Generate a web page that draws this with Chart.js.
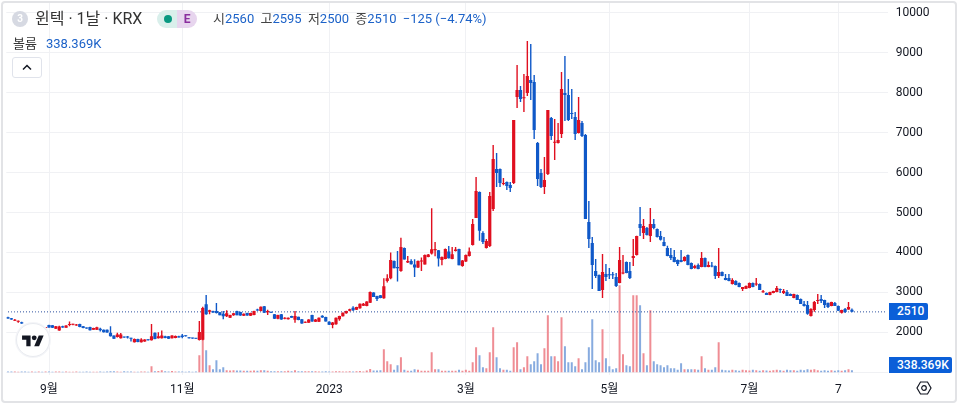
<!DOCTYPE html>
<html lang="ko">
<head>
<meta charset="utf-8">
<title>윈텍 · 1날 · KRX</title>
<script src="https://cdn.jsdelivr.net/npm/chart.js@4/dist/chart.umd.min.js"></script>
<style>
    html, body { margin: 0; padding: 0; background: #fff; width: 960px; height: 404px; overflow: hidden; }
    body { position: relative; font-family: Roboto, "Noto Sans CJK KR", sans-serif; color: #131722; }
    #chart { position: absolute; left: 0; top: 0; }
    #frame { position: absolute; left: 1px; top: 1px; width: 952px; height: 398px; border: 2px solid #e2e3e6; border-radius: 4px; pointer-events: none; }
    .abs { position: absolute; white-space: nowrap; }
    .blue { color: #1c62c8; }
    .gap { margin-left: 3px; }
    .tag { background: #0b5fd8; color: #fff; font-size: 12px; font-weight: 500; line-height: 16px; height: 16px; padding-left: 8px; }
</style>
</head>
<body>
<canvas id="chart" width="960" height="404"></canvas>
<div id="frame"></div>

<!-- legend header -->
<div class="abs" style="left:12px;top:11px;width:16px;height:16px;border-radius:50%;background:#d6d9e2;color:#fff;font-size:10px;line-height:16px;text-align:center;font-weight:700">3</div>
<div class="abs" style="left:35px;top:9px;font-size:16px;line-height:20px;color:#333">윈텍 · 1날 · KRX</div>
<div class="abs" style="left:157px;top:10px;width:20px;height:18px;background:#d9efeb;border-radius:9px 0 0 9px"></div>
<div class="abs" style="left:177px;top:10px;width:20px;height:18px;background:#e7d5ee;border-radius:0 9px 9px 0;color:#8a2d9e;font-size:12px;font-weight:700;line-height:18px;text-align:center">E</div>
<div class="abs" style="left:164px;top:15px;width:8px;height:8px;border-radius:50%;background:#089981"></div>
<div class="abs" style="left:213px;top:10px;font-size:13px;line-height:18px;color:#444">시<span class="blue">2560</span> <span class="gap">고</span><span class="blue">2595</span> <span class="gap">저</span><span class="blue">2500</span> <span class="gap">종</span><span class="blue">2510</span> <span class="blue gap">−125 (−4.74%)</span></div>
<div class="abs" style="left:13px;top:35px;font-size:13px;line-height:18px;color:#333">볼륨</div>
<div class="abs blue" style="left:46px;top:35px;font-size:13px;line-height:18px">338.369K</div>
<div class="abs" style="left:12px;top:57px;width:28px;height:19px;border:1px solid #e0e3eb;border-radius:3px;background:#fff">
    <svg width="28" height="19" style="display:block"><path d="M10 11.5 L14 7.5 L18 11.5" fill="none" stroke="#131722" stroke-width="1.5"/></svg>
</div>

<!-- logo -->
<div class="abs" style="left:16px;top:323px;width:32px;height:32px;border:1px solid #e9ebf0;border-radius:50%;background:#fff;box-shadow:0 0 0 1px #f4f5f8">
    <svg width="22" height="17" viewBox="0 0 36 28" style="position:absolute;left:5px;top:9px"><path d="M14 22H7V11H0V4h14v18zM28 22h-8l7.5-18h8L28 22z" fill="#131722"/><circle cx="20" cy="8" r="4" fill="#131722"/></svg>
</div>

<!-- last value tags -->
<div class="abs tag" style="left:889px;top:303px;width:31px;height:17px;line-height:17px;border-radius:0 2px 2px 0">2510</div>
<div class="abs tag" style="left:889px;top:357px;width:55px;border-radius:0 2px 2px 0">338.369K</div>

<!-- settings button -->
<svg class="abs" style="left:916px;top:380px" width="16" height="16" viewBox="0 0 16 16"><path d="M4.5 2 H11.5 L15 8 L11.5 14 H4.5 L1 8 Z" fill="none" stroke="#131722" stroke-width="1.2"/><circle cx="8" cy="8" r="2.3" fill="none" stroke="#131722" stroke-width="1.2"/></svg>

<script>
// Daily candles, oldest first
const opens = [
    2375,2350,2290,2260,2250,2175,2145,2140,2190,2150,
    2125,2105,2180,2175,2085,2040,2150,2115,2180,2185,
    2170,2205,2150,2115,2130,2065,2065,2090,2065,2065,
    1985,1915,1880,1850,1875,1880,1845,1750,1830,1750,
    1765,1815,1800,1985,1850,1850,1900,1900,1850,1855,
    1900,1915,1915,1870,1855,1845,1805,1810,2700,2515,
    2530,2530,2500,2465,2400,2365,2425,2530,2505,2415,
    2480,2415,2430,2555,2530,2650,2500,2505,2450,2335,
    2450,2335,2325,2405,2315,2385,2325,2240,2240,2430,
    2265,2265,2415,2380,2265,2180,2200,2325,2400,2475,
    2535,2615,2565,2600,2665,2660,2740,2995,2905,2925,
    2850,3285,3350,3785,3635,3535,4110,3745,3785,3700,
    3620,3770,3700,3885,3970,4055,4055,3810,3835,4020,
    3835,4035,4085,3660,3770,3910,4185,4865,5515,4485,
    4110,4160,5090,6090,6090,5715,5765,5690,5740,7895,
    8070,7860,7995,8320,8270,6740,5990,5640,5965,7370,
    6750,6740,6970,7995,7945,7495,7395,6995,7245,6945,
    4760,4235,3535,3435,3060,3460,3440,3440,3385,3235,
    3470,3760,3535,3860,3935,4710,4485,4610,4410,4710,
    4585,4410,4260,4110,3935,3885,3810,3810,3785,3935,
    3735,3610,3685,3635,3860,3635,3670,3660,3410,3510,
    3360,3360,3210,3285,3235,3085,3090,3110,3235,3195,
    3210,3000,2985,2935,2985,3010,3085,2985,3010,2960,
    2860,2935,2835,2710,2685,2405,2555,2785,2830,2805,
    2735,2660,2735,2660,2485,2580,2570,2560
];
const highs = [
    2385,2355,2330,2295,2260,2180,2165,2170,2195,2165,
    2140,2130,2185,2180,2155,2160,2160,2175,2270,2215,
    2205,2215,2155,2120,2135,2110,2135,2115,2070,2070,
    2150,1920,1985,1980,1885,1905,1860,1840,1835,1850,
    1825,1825,2205,1990,2000,2040,1910,1905,1925,1915,
    1910,1955,1925,1875,1860,1850,2280,2640,2935,2560,
    2540,2735,2505,2530,2550,2440,2480,2535,2510,2470,
    2490,2490,2540,2590,2645,2660,2560,2515,2455,2440,
    2455,2375,2370,2415,2530,2390,2330,2270,2325,2440,
    2330,2370,2425,2390,2275,2255,2370,2415,2495,2540,
    2590,2650,2640,2720,2730,2775,3020,3000,2915,2935,
    3350,3450,3995,3795,4035,4370,4120,3910,3830,3830,
    3795,3870,3945,3960,5105,4260,4060,3895,4095,4160,
    4135,4135,4090,3810,3945,4120,4840,5890,5525,4530,
    4335,5515,6690,6490,6100,5865,5775,5765,7320,8695,
    8170,8470,9300,9225,8445,6765,6090,6390,7570,7395,
    7345,7245,8520,8920,8345,8095,7520,7895,7295,6970,
    5290,4385,3835,3445,3960,3710,3610,3510,3485,4135,
    3935,3770,3760,4335,4420,5140,4840,4635,5115,4840,
    4600,4535,4385,4165,4110,4060,3820,4060,3905,3945,
    3745,3690,3720,4010,3870,3770,3760,3670,4110,3520,
    3460,3460,3350,3300,3245,3135,3170,3245,3245,3360,
    3220,3060,2995,3015,3040,3160,3095,3085,3060,2970,
    2965,2945,2845,2785,2785,2600,2785,2960,2935,2815,
    2745,2765,2760,2670,2560,2610,2760,2595
];
const lows = [
    2340,2315,2280,2240,2210,2120,2130,2130,2170,2145,
    2105,2100,2115,2105,2080,2035,2115,2110,2150,2175,
    2160,2125,2100,2090,2045,2060,2055,2015,1995,1985,
    1890,1830,1865,1845,1860,1845,1770,1745,1750,1745,
    1760,1790,1790,1825,1845,1845,1850,1830,1845,1850,
    1865,1850,1895,1845,1835,1830,1795,1800,2440,2450,
    2490,2470,2425,2325,2380,2355,2415,2425,2415,2405,
    2415,2405,2425,2535,2525,2480,2430,2480,2330,2325,
    2315,2325,2320,2360,2240,2300,2215,2230,2235,2265,
    2255,2255,2365,2270,2180,2100,2190,2290,2395,2465,
    2525,2530,2555,2590,2660,2650,2735,2885,2780,2850,
    2840,3245,3325,3600,3270,3515,3820,3735,3700,3385,
    3610,3535,3695,3880,3950,3905,3645,3680,3830,3845,
    3830,4020,3680,3640,3760,3900,4175,4860,4290,4210,
    4100,4135,5040,5640,5640,5680,5565,5515,5715,7620,
    7770,7520,7920,7820,6840,5665,5615,5465,5940,6815,
    6315,6730,6870,7295,7295,7345,6815,6980,6890,4840,
    4110,3085,3360,3030,2860,3285,3335,3335,3135,3225,
    3455,3480,3335,3660,3925,4410,4335,4425,4260,4580,
    4375,4300,4155,3905,3810,3755,3660,3755,3775,3680,
    3580,3590,3580,3625,3630,3625,3630,3335,3360,3405,
    3300,3280,3195,3180,3130,3035,3080,3100,3130,3165,
    3060,2990,2935,2925,2975,3000,2985,2960,2910,2905,
    2850,2810,2710,2645,2435,2395,2510,2710,2735,2610,
    2610,2650,2655,2530,2470,2480,2560,2500
];
const closes = [
    2345,2320,2315,2290,2220,2125,2135,2160,2175,2160,
    2110,2120,2120,2110,2150,2145,2120,2170,2205,2205,
    2185,2130,2105,2095,2050,2105,2125,2050,2000,1990,
    1900,1835,1940,1940,1870,1870,1835,1830,1755,1815,
    1815,1800,1900,1830,1900,1915,1855,1835,1915,1905,
    1870,1880,1900,1850,1840,1835,2005,2610,2450,2550,
    2495,2480,2425,2400,2475,2430,2475,2425,2420,2465,
    2420,2480,2530,2545,2640,2485,2530,2490,2335,2430,
    2320,2365,2365,2365,2405,2305,2220,2265,2320,2270,
    2320,2365,2370,2270,2185,2245,2365,2405,2490,2530,
    2575,2550,2635,2715,2715,2770,3010,2885,2830,2855,
    3150,3350,3810,3600,3605,4135,3820,3785,3705,3620,
    3785,3800,3935,3945,4080,4085,3845,3885,4085,3855,
    3955,4070,3680,3800,3935,4020,4710,5540,4540,4260,
    4285,5415,6340,5990,5740,5740,5665,5615,7320,8070,
    7845,7875,8420,8245,7070,5840,5640,5815,7570,6915,
    6770,6815,8095,7945,7320,7470,6970,7320,6915,4840,
    4335,3685,3410,3035,3510,3385,3425,3425,3160,3810,
    3490,3485,3360,3910,4410,4610,4660,4435,4710,4610,
    4385,4315,4160,3910,3860,3760,3710,3760,3885,3685,
    3585,3660,3585,3860,3635,3685,3650,3410,3510,3410,
    3310,3285,3310,3185,3135,3135,3160,3235,3135,3215,
    3060,3015,2935,3010,3035,3110,3060,3035,2910,2910,
    2960,2810,2710,2660,2460,2585,2760,2810,2785,2680,
    2635,2760,2660,2535,2555,2505,2635,2510
];
// Volume in thousands of shares
const volumes = [
    130,120,150,110,130,120,100,120,110,130,
    110,120,150,100,140,120,110,130,100,110,
    120,110,100,130,90,110,100,120,110,130,
    170,180,120,110,170,120,130,110,100,120,
    130,110,1020,170,240,340,170,130,240,130,
    120,130,100,130,100,120,2890,6800,3740,1190,
    510,2040,510,850,340,290,340,290,290,255,
    255,255,290,255,340,340,255,170,170,170,
    170,170,255,170,340,170,170,170,170,170,
    170,150,140,170,150,130,180,170,150,140,
    170,150,180,200,120,290,560,290,290,340,
    3910,1870,1360,425,1190,2550,425,255,255,510,
    425,255,255,255,3400,510,510,255,255,255,
    255,255,425,255,425,255,1700,4250,2890,850,
    680,3400,7650,2550,680,425,425,255,4250,5100,
    510,850,2720,1360,1870,3230,1360,4080,9690,2720,
    2720,1870,9350,4420,1700,1700,1020,2380,510,1700,
    4250,9010,2040,1700,7310,2380,1020,510,680,14790,
    3060,1190,1020,13090,13090,11390,3230,1190,10540,1870,
    1360,1190,850,1190,680,680,425,1530,510,510,
    510,510,425,2720,680,425,425,850,5100,425,
    340,290,425,340,255,425,340,290,425,340,
    255,340,290,255,340,425,340,255,425,340,
    340,255,425,340,510,425,510,340,255,340,
    255,340,255,340,255,340,510,338
];

const lastClose = 2510;
const priceTicks = [1000, 2000, 3000, 4000, 5000, 6000, 7000, 8000, 9000, 10000];
const tickIndexes = [12, 51, 94, 134, 176, 217, 243];
const tickLabels = ["9월", "11월", "2023", "3월", "5월", "7월", "7"];

const upColor = "#e00f1f";
const downColor = "#0f58c8";
const upVolume = "#ef8d94";
const downVolume = "#87abdf";
const gridColor = "#f0f1f4";

// The time axis runs on past the last candle, as it does in the original
const slotCount = 258;
const categories = [];
for (let i = 0; i < slotCount; i++) {
    const at = tickIndexes.indexOf(i);
    categories.push(at >= 0 ? tickLabels[at] : "");
}

const isUp = opens.map((o, i) => closes[i] >= o);
const candleColors = isUp.map(up => up ? upColor : downColor);
const volumeColors = isUp.map(up => up ? upVolume : downVolume);

const tickFont = { family: 'Roboto, "Noto Sans CJK KR", sans-serif', size: 12 };

new Chart(document.getElementById("chart").getContext("2d"), {
    type: "bar",
    data: {
        labels: categories,
        datasets: [
            {
                label: "볼륨",
                data: volumes,
                yAxisID: "volume",
                backgroundColor: volumeColors,
                barThickness: 2,
                inflateAmount: 0,
                grouped: false,
                order: 4
            },
            {
                type: "line",
                label: "종가",
                data: categories.map(() => lastClose),
                yAxisID: "price",
                borderColor: "#2b4f9e",
                borderWidth: 1,
                borderDash: [1, 2],
                pointRadius: 0,
                order: 3
            },
            {
                label: "고저",
                data: lows.map((l, i) => [l, highs[i]]),
                yAxisID: "price",
                backgroundColor: candleColors,
                barThickness: 1.4,
                inflateAmount: 0,
                grouped: false,
                order: 2
            },
            {
                label: "시종",
                data: opens.map((o, i) => [o, closes[i]]),
                yAxisID: "price",
                backgroundColor: candleColors,
                barThickness: 3.2,
                inflateAmount: 0,
                minBarLength: 1,
                grouped: false,
                order: 1
            }
        ]
    },
    options: {
        responsive: false,
        animation: false,
        layout: { padding: { left: 1.3, top: 3, right: 0, bottom: 0 } },
        plugins: { legend: { display: false }, tooltip: { enabled: false } },
        scales: {
            x: {
                offset: true,
                border: { display: false },
                grid: {
                    offset: false,
                    drawTicks: false,
                    color: ctx => (ctx.tick && ctx.tick.label ? gridColor : "transparent")
                },
                ticks: {
                    autoSkip: false,
                    maxRotation: 0,
                    minRotation: 0,
                    padding: 8,
                    color: "#131722",
                    font: tickFont
                },
                afterFit: scale => { scale.height = 29; }
            },
            price: {
                position: "right",
                min: 928,
                max: 10250,
                border: { display: false },
                grid: { color: gridColor, drawTicks: false },
                afterBuildTicks: scale => { scale.ticks = priceTicks.map(v => ({ value: v })); },
                ticks: {
                    padding: 8,
                    color: "#131722",
                    font: tickFont,
                    callback: v => (v === priceTicks[0] ? "" : String(v))
                },
                // drop the half-label padding so the plot keeps its full height
                afterFit: scale => { scale.width = 72.2; scale.paddingTop = 0; scale.paddingBottom = 0; }
            },
            volume: {
                display: false,
                min: -459,
                max: 62781
            }
        }
    }
});
</script>
</body>
</html>
